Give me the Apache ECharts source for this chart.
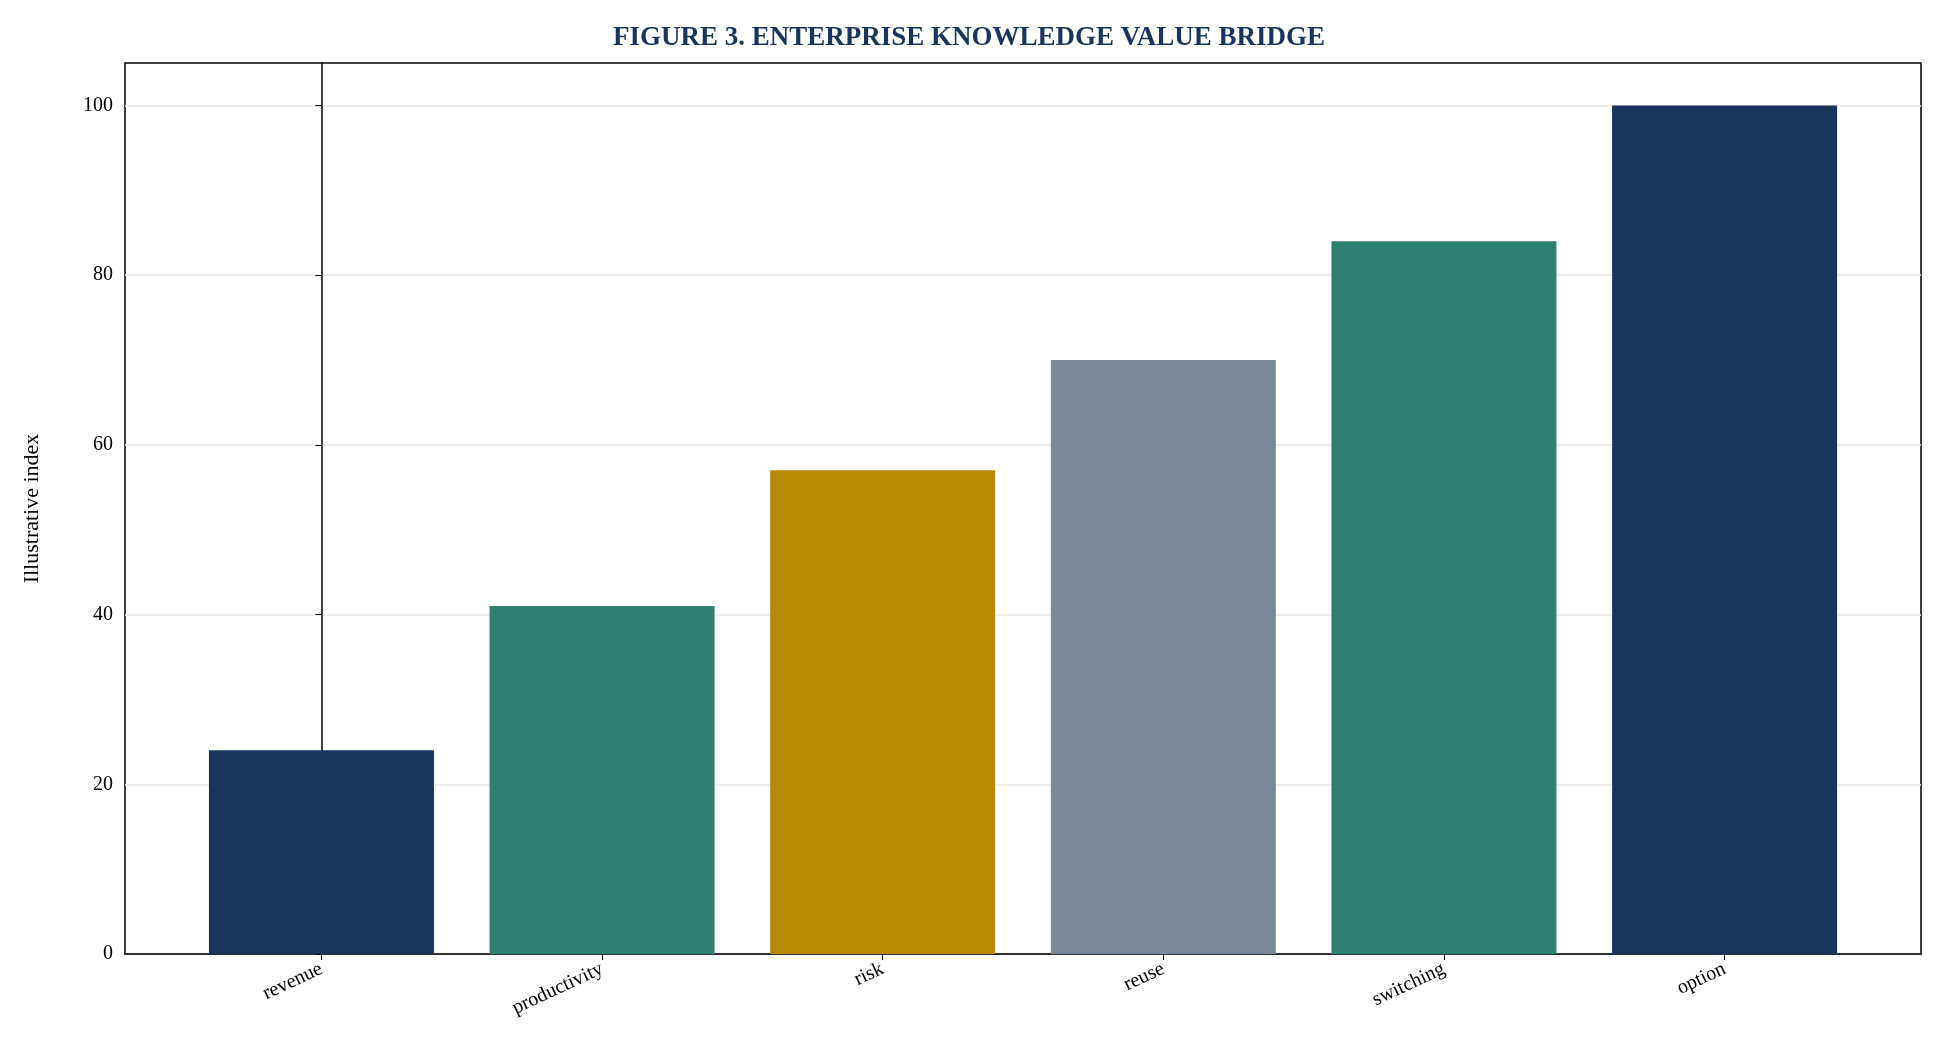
<!DOCTYPE html><html><head><meta charset="utf-8">
<script src="https://cdn.jsdelivr.net/npm/echarts@6/dist/echarts.min.js"></script>
<style>html,body{margin:0;background:#fff}#c{width:1938px;height:1063px}</style></head><body><div id="c"></div>
<script>
const categories=['revenue','productivity','risk','reuse','switching','option'];
const values=[24,41,57,70,84,100];
const colors=['#18365c','#2e8070','#b38a00','#7b8796','#2e8070','#18365c'];
const yTicks=[0,20,40,60,80,100];
const F='Liberation Serif';
const ch=echarts.init(document.getElementById('c'));
ch.setOption({
 title:{text:'FIGURE 3. ENTERPRISE KNOWLEDGE VALUE BRIDGE',left:'center',top:20,textStyle:{fontFamily:F,fontSize:27,fontWeight:'bold',color:'#18365c'}},
 grid:{left:125,right:17,top:63,bottom:109,show:true,borderColor:'#000',borderWidth:1.5},
 xAxis:{type:'value',min:-0.7,max:5.7,
  axisLine:{show:true,onZero:false,lineStyle:{color:'#000',width:1.5}},
  splitLine:{show:false},
  axisTick:{show:true,length:6,lineStyle:{color:'#000'},customValues:[0,1,2,3,4,5]},
  axisLabel:{customValues:[0,1,2,3,4,5],formatter:v=>categories[Math.round(v)]||'',rotate:25,margin:14,fontFamily:F,fontSize:20,color:'#000'}},
 yAxis:{type:'value',min:0,max:105,name:'Illustrative index',nameLocation:'middle',nameGap:82,nameTextStyle:{fontFamily:F,fontSize:22,color:'#000'},
  axisLine:{show:true,lineStyle:{color:'#000',width:1.5}},
  axisTick:{show:true,length:6,lineStyle:{color:'#000'},customValues:yTicks},
  axisLabel:{customValues:yTicks,fontFamily:F,fontSize:20,color:'#000',margin:12},
  splitLine:{show:true,lineStyle:{color:'#e8e8e8',width:1.5}}},
 series:[{type:'bar',barWidth:225,z:1,
  data:values.map((v,i)=>({value:[i,v],itemStyle:{color:colors[i]}}))}]
});
</script></body></html>
